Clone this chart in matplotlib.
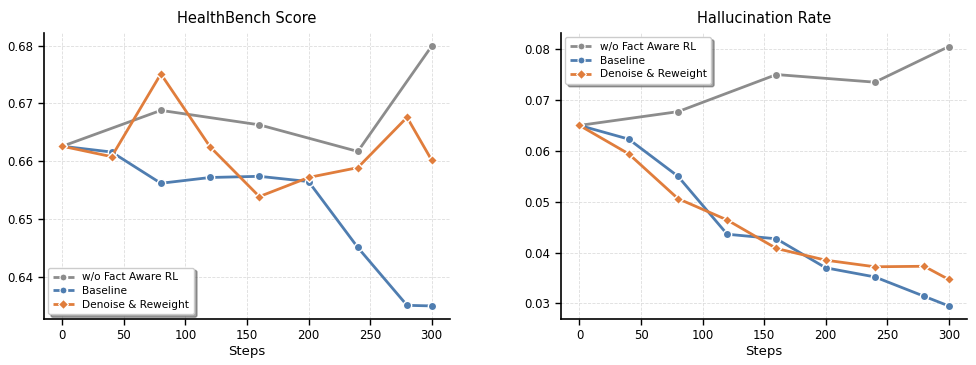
import matplotlib
matplotlib.use('Agg')
import matplotlib.pyplot as plt
from matplotlib.lines import Line2D

steps_sparse = [0, 80, 160, 240, 300]
steps = [0, 40, 80, 120, 160, 200, 240, 280, 300]

# HealthBench Score
hb_wo = [0.6626, 0.6688, 0.6663, 0.6617, 0.6799]
hb_base = [0.6626, 0.6616, 0.6562, 0.6572, 0.6574, 0.6565, 0.6451, 0.6351, 0.6350]
hb_dr = [0.6626, 0.6608, 0.6751, 0.6625, 0.6539, 0.6572, 0.6589, 0.6676, 0.6602]

# Hallucination Rate
hr_wo = [0.0650, 0.0677, 0.0750, 0.0735, 0.0805]
hr_base = [0.0650, 0.0623, 0.0550, 0.0436, 0.0427, 0.0370, 0.0352, 0.0314, 0.0295]
hr_dr = [0.0650, 0.0594, 0.0506, 0.0464, 0.0408, 0.0385, 0.0372, 0.0373, 0.0347]

labels = ['w/o Fact Aware RL', 'Baseline', 'Denoise & Reweight']
c_gray = '#8c8c8c'
c_blue = '#4f7db0'
c_orange = '#e07d3c'

plt.rcParams['font.family'] = 'DejaVu Sans'

fig, axes = plt.subplots(1, 2, figsize=(9.76, 3.65), dpi=100)
fig.subplots_adjust(left=0.045, right=0.991, top=0.91, bottom=0.127, wspace=0.273)


def draw(ax, wo, base, dr, title, loc):
    ax.plot(steps_sparse, wo, color=c_gray, lw=2, marker='o', ms=6,
            mec='white', mew=1, zorder=3)
    ax.plot(steps, base, color=c_blue, lw=2, marker='o', ms=6,
            mec='white', mew=1, zorder=3)
    ax.plot(steps, dr, color=c_orange, lw=2, marker='D', ms=5.5,
            mec='white', mew=1, zorder=3)
    ax.set_title(title, fontsize=10.5, pad=7)
    ax.set_xlabel('Steps', fontsize=9.5, labelpad=2)
    ax.set_xticks([0, 50, 100, 150, 200, 250, 300])
    ax.set_xlim(-15, 315)
    ax.tick_params(labelsize=8.5, width=1, length=4)
    ax.grid(True, ls='--', lw=0.6, color='#dddddd')
    ax.spines['top'].set_visible(False)
    ax.spines['right'].set_visible(False)
    for s in ('left', 'bottom'):
        ax.spines[s].set_linewidth(1.2)
    handles = [
        Line2D([], [], color=c_gray, lw=2, ls='--', marker='o', ms=5, mec='white', mew=0.8),
        Line2D([], [], color=c_blue, lw=2, ls='--', marker='o', ms=5, mec='white', mew=0.8),
        Line2D([], [], color=c_orange, lw=2, ls='--', marker='D', ms=5, mec='white', mew=0.8),
    ]
    ax.legend(handles, labels, loc=loc, fontsize=7.6, shadow=True, fancybox=True,
              framealpha=1, borderpad=0.45, labelspacing=0.35, handlelength=2,
              borderaxespad=0.4)


draw(axes[0], hb_wo, hb_base, hb_dr, 'HealthBench Score', 'lower left')
axes[0].set_ylim(0.6328, 0.6822)
axes[0].set_yticks([0.64, 0.65, 0.66, 0.67, 0.68])

draw(axes[1], hr_wo, hr_base, hr_dr, 'Hallucination Rate', 'upper left')
axes[1].set_ylim(0.0270, 0.0832)
axes[1].set_yticks([0.03, 0.04, 0.05, 0.06, 0.07, 0.08])

fig.savefig('out.png', dpi=100)
